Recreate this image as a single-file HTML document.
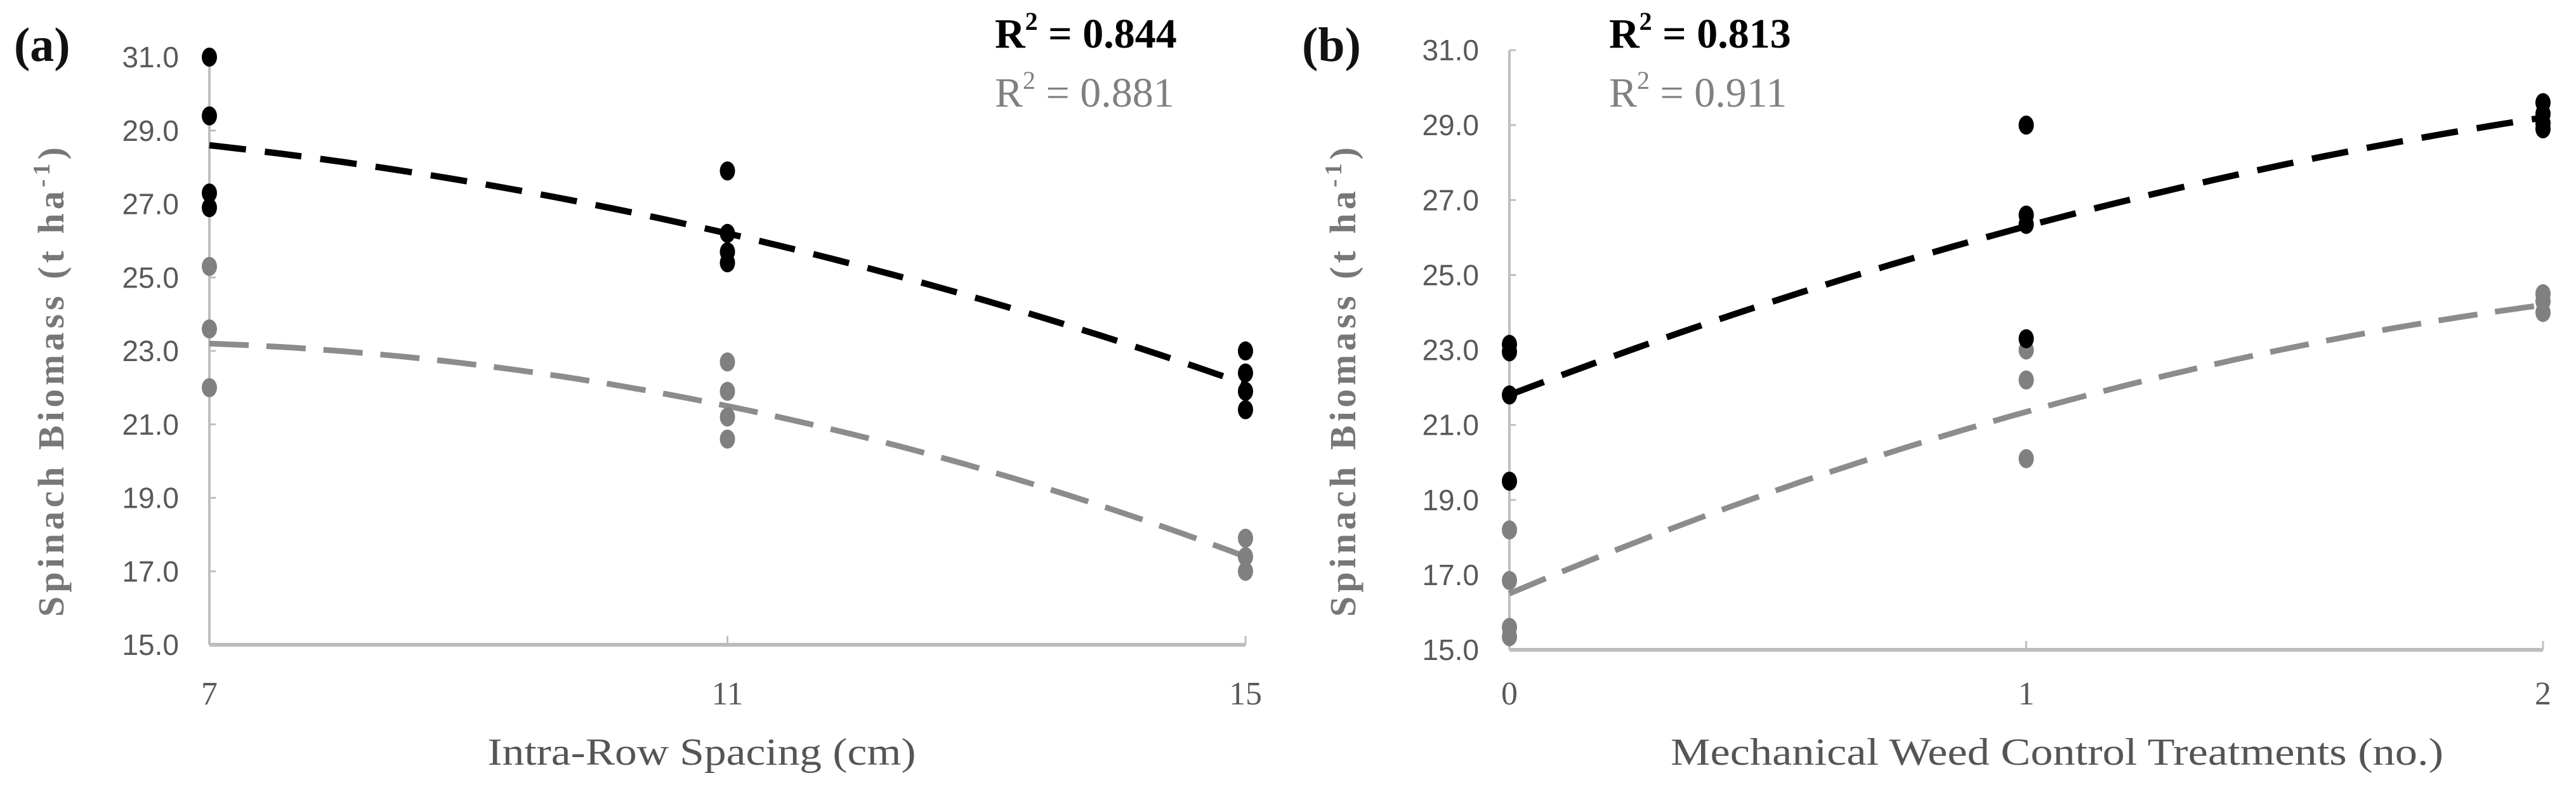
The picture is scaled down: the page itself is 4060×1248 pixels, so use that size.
<!DOCTYPE html>
<html><head><meta charset="utf-8"><style>
html,body{margin:0;padding:0;background:#fff;width:4060px;height:1248px;overflow:hidden}
svg{display:block}
.tick{font-family:"Liberation Sans Narrow","Liberation Sans",sans-serif;font-size:46px;fill:#595959}
.xtick{font-family:"Liberation Serif",serif;font-size:52px;fill:#595959}
.xt{font-family:"Liberation Serif",serif;font-size:60px;fill:#555}
.yt{font-family:"Liberation Serif",serif;font-size:58px;font-weight:bold;fill:#777}
.pl{font-family:"Liberation Serif",serif;font-size:76px;font-weight:bold;fill:#111}
.r2{font-family:"Liberation Serif",serif;font-size:66px}
</style></head><body>
<svg id="chart" width="4060" height="1248" viewBox="0 0 4060 1248" xmlns="http://www.w3.org/2000/svg"></svg>
<script>
// Panel (a) data
const catsA = [7, 11, 15];
const blackA = [[31.0, 29.4, 27.3, 26.9], [27.9, 26.2, 25.7, 25.4], [23.0, 22.4, 21.9, 21.4]];
const grayA = [[25.3, 23.6, 22.0], [22.7, 21.9, 21.2, 20.6], [17.9, 17.4, 17.0]];
const trendBlackA = [28.6, 26.2, 22.1];
const trendGrayA = [23.2, 21.5, 17.4];
// Panel (b) data
const catsB = [0, 1, 2];
const blackB = [[23.15, 22.95, 21.8, 19.5], [29.0, 26.6, 26.35, 23.3], [29.6, 29.3, 29.05, 28.9]];
const grayB = [[18.2, 16.85, 15.6, 15.35], [23.0, 22.2, 20.1], [24.5, 24.3, 24.0]];
const trendBlackB = [21.8, 26.3, 29.2];
const trendGrayB = [16.5, 21.35, 24.2];
const yTicks = ["15.0", "17.0", "19.0", "21.0", "23.0", "25.0", "27.0", "29.0", "31.0"];
const r2A = ["0.844", "0.881"];
const r2B = ["0.813", "0.911"];

const NS = "http://www.w3.org/2000/svg";
const svg = document.getElementById("chart");
function mk(tag, attrs, parent, text) {
  const e = document.createElementNS(NS, tag);
  for (const k in attrs) e.setAttribute(k, attrs[k]);
  if (text !== undefined) e.textContent = text;
  (parent || svg).appendChild(e);
  return e;
}

function panel(cfg) {
  const g = mk("g", {});
  
  
  const xs = v => cfg.x0 + (v - cfg.cats[0]) / (cfg.cats[2] - cfg.cats[0]) * (cfg.x1 - cfg.x0);
  const ys = v => cfg.y15 + (v - 15) / 16 * (cfg.y31 - cfg.y15);

  const ya = mk("line", {x1: cfg.x0, y1: ys(31), x2: cfg.x0, y2: ys(15), stroke: "#bfbfbf", "stroke-width": 4}, g);
  
  
  const xa = mk("line", {x1: cfg.x0, y1: ys(15), x2: cfg.x1, y2: ys(15), stroke: "#bcbcbc", "stroke-width": 6}, g);
  
  

  yTicks.forEach(t => {
    const v = parseFloat(t);
    const tk = mk("line", {x1: cfg.x0, y1: ys(v), x2: cfg.x0 + 10, y2: ys(v), stroke: "#bfbfbf", "stroke-width": 3}, g);
    
    
    const lb = mk("text", {x: cfg.x0 - 48, y: ys(v) + 16, "text-anchor": "end", class: "tick"}, g, t);
    
    
  });
  cfg.cats.forEach(c => {
    const tk = mk("line", {x1: xs(c), y1: ys(15), x2: xs(c), y2: ys(15) - 14, stroke: "#bfbfbf", "stroke-width": 3}, g);
    
    
    const lb = mk("text", {x: xs(c), y: 1110, "text-anchor": "middle", class: "xtick"}, g, String(c));
    
    
  });

  function curve(vals, color, dash, w, nm) {
    const c0 = cfg.cats[0], c1 = cfg.cats[1], c2 = cfg.cats[2];
    const f = x => vals[0] * (x - c1) * (x - c2) / ((c0 - c1) * (c0 - c2)) +
                   vals[1] * (x - c0) * (x - c2) / ((c1 - c0) * (c1 - c2)) +
                   vals[2] * (x - c0) * (x - c1) / ((c2 - c0) * (c2 - c1));
    let d = "";
    for (let i = 0; i <= 100; i++) {
      const x = c0 + (c2 - c0) * i / 100;
      d += (i ? "L" : "M") + xs(x).toFixed(1) + "," + ys(f(x)).toFixed(1);
    }
    const p = mk("path", {d: d, fill: "none", stroke: color, "stroke-width": w, "stroke-dasharray": dash}, g);
    
    
  }
  curve(cfg.tg, "#8c8c8c", "62 28", 9, "trend-line-gray");
  curve(cfg.tb, "#000", "58 30", 10, "trend-line-black");

  function pts(arr, color, nm) {
    arr.forEach((vals, i) => vals.forEach(v => {
      const e = mk("ellipse", {cx: xs(cfg.cats[i]), cy: ys(v), rx: 12, ry: 15, fill: color}, g);
      
      
    }));
  }
  pts(cfg.gray, "#808080", "point-gray");
  pts(cfg.black, "#000", "point-black");

  const pl = mk("text", {x: cfg.plx, y: 96, class: "pl"}, g, cfg.pl);
  
  
  const yt = mk("text", {x: 0, y: 0, class: "yt", "text-anchor": "middle", transform: "translate(" + (cfg.ytx + 20) + ",602) rotate(-90)", textLength: 740, lengthAdjust: "spacing"}, g, "Spinach Biomass (t ha");
  mk("tspan", {dy: -22, "font-size": "38"}, yt, "-1");
  mk("tspan", {dy: 22}, yt, ")");
  
  
  const xt = mk("text", {x: cfg.xtx, y: 1205, class: "xt", "text-anchor": "middle", textLength: cfg.xtw, lengthAdjust: "spacingAndGlyphs"}, g, cfg.xt);
  
  

  [[cfg.r2[0], "#000", "bold", 75, "r2-black"], [cfg.r2[1], "#808080", "normal", 168, "r2-gray"]].forEach(r => {
    const t = mk("text", {x: cfg.r2x, y: r[3], class: "r2", fill: r[1], "font-weight": r[2]}, g, "R");
    mk("tspan", {dy: -28, "font-size": "40"}, t, "2");
    mk("tspan", {dy: 28}, t, " = " + r[0]);
    
    
  });
}

panel({name: "panel-a", cats: catsA, x0: 330, x1: 1963, y31: 90, y15: 1016, black: blackA, gray: grayA,
  tb: trendBlackA, tg: trendGrayA, pl: "(a)", plx: 22, ytx: 80, xt: "Intra-Row Spacing (cm)", xtx: 1106, xtw: 675,
  r2: r2A, r2x: 1568});
panel({name: "panel-b", cats: catsB, x0: 2379, x1: 4008, y31: 79, y15: 1024, black: blackB, gray: grayB,
  tb: trendBlackB, tg: trendGrayB, pl: "(b)", plx: 2052, ytx: 2116, xt: "Mechanical Weed Control Treatments (no.)", xtx: 3242, xtw: 1218,
  r2: r2B, r2x: 2536});
</script>
</body></html>
